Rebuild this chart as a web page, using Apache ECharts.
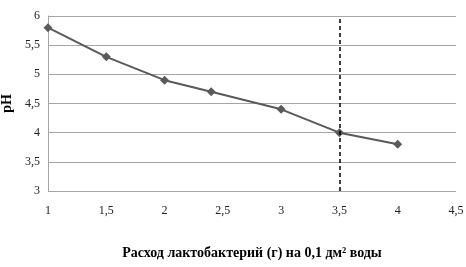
<!DOCTYPE html>
<html>
<head>
<meta charset="utf-8">
<script src="https://cdn.jsdelivr.net/npm/echarts@6/dist/echarts.min.js"></script>
<style>html,body{margin:0;padding:0;background:#fff;}#c{width:466px;height:267px;}</style>
</head>
<body>
<div id="c"></div>
<script>
const xValues = [1, 1.5, 2, 2.4, 3, 3.5, 4];
const phValues = [5.8, 5.3, 4.9, 4.7, 4.4, 4.0, 3.8];
const markerX = 3.5;
const xTitle = 'Расход лактобактерий (г) на 0,1 дм² воды';
const yTitle = 'pH';
const fmt = v => String(v).replace('.', ',');

const chart = echarts.init(document.getElementById('c'), null, {renderer: 'canvas'});
chart.setOption({
  animation: false,
  backgroundColor: '#fff',
  grid: {left: 48, right: 10, top: 16, bottom: 76, containLabel: false, outerBoundsMode: 'none'},
  xAxis: {
    type: 'value', min: 1, max: 4.5, interval: 0.5,
    name: xTitle, nameLocation: 'middle', nameGap: 55,
    nameTextStyle: {fontFamily: 'Liberation Serif', fontWeight: 'bold', fontSize: 14, color: '#000'},
    axisLine: {show: false},
    axisTick: {show: false},
    splitLine: {show: false},
    axisLabel: {formatter: fmt, fontFamily: 'Liberation Serif', fontSize: 12, color: '#222', margin: 14}
  },
  yAxis: {
    type: 'value', min: 3, max: 6, interval: 0.5,
    name: yTitle, nameLocation: 'middle', nameGap: 34, nameRotate: 90,
    nameTextStyle: {fontFamily: 'Liberation Serif', fontWeight: 'bold', fontSize: 14, color: '#000'},
    axisLine: {show: true, lineStyle: {color: '#a6a6a6', width: 1}},
    axisTick: {show: false},
    splitLine: {show: true, lineStyle: {color: '#a6a6a6', width: 1}},
    axisLabel: {formatter: fmt, fontFamily: 'Liberation Serif', fontSize: 12, color: '#222', margin: 8}
  },
  series: [{
    type: 'line',
    data: xValues.map((x, i) => [x, phValues[i]]),
    symbol: 'diamond', symbolSize: 9,
    lineStyle: {color: '#5a5a5a', width: 2},
    itemStyle: {color: '#5a5a5a'},
    markLine: {
      silent: true, symbol: 'none', label: {show: false},
      lineStyle: {color: '#000', type: [4, 3], width: 1.5},
      data: [{xAxis: markerX}]
    }
  }]
});
</script>
</body>
</html>
